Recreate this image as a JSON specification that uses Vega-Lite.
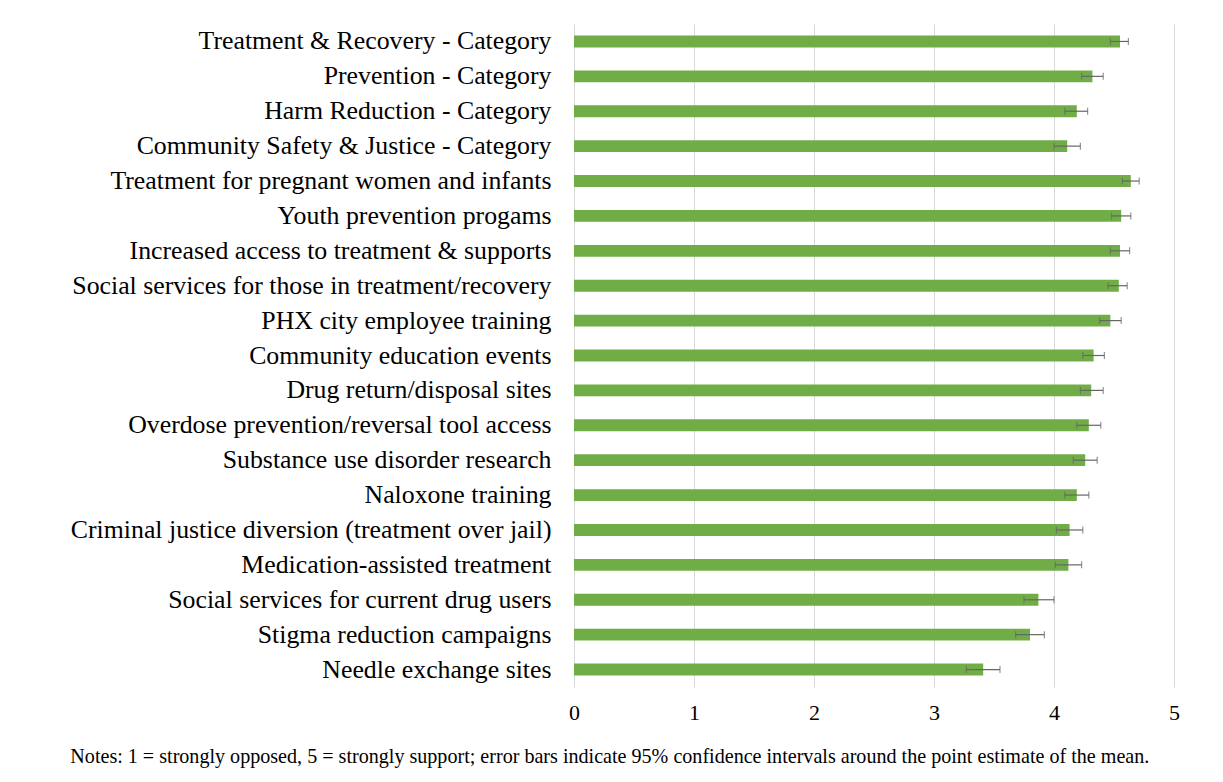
{
  "$schema": "https://vega.github.io/schema/vega-lite/v6.json",
  "autosize": "none",
  "width": 600,
  "height": 663,
  "padding": {"left": 574, "top": 24, "right": 49, "bottom": 95},
  "background": "white",
  "config": {
    "view": {"stroke": null},
    "font": "Liberation Serif"
  },
  "title": {
    "text": "Notes: 1 = strongly opposed, 5 = strongly support; error bars indicate 95% confidence intervals around the point estimate of the mean.",
    "orient": "bottom",
    "anchor": "start",
    "frame": "bounds",
    "font": "Liberation Serif",
    "fontSize": 20.1,
    "fontWeight": "normal",
    "color": "black",
    "offset": 24
  },
  "data": {
    "values": [
      {"item": "Treatment & Recovery - Category", "mean": 4.55, "lo": 4.47, "hi": 4.62},
      {"item": "Prevention - Category", "mean": 4.32, "lo": 4.23, "hi": 4.41},
      {"item": "Harm Reduction - Category", "mean": 4.19, "lo": 4.09, "hi": 4.28},
      {"item": "Community Safety & Justice - Category", "mean": 4.11, "lo": 4.00, "hi": 4.22},
      {"item": "Treatment for pregnant women and infants", "mean": 4.64, "lo": 4.57, "hi": 4.71},
      {"item": "Youth prevention progams", "mean": 4.56, "lo": 4.48, "hi": 4.64},
      {"item": "Increased access to treatment & supports", "mean": 4.55, "lo": 4.47, "hi": 4.63},
      {"item": "Social services for those in treatment/recovery", "mean": 4.54, "lo": 4.45, "hi": 4.61},
      {"item": "PHX city employee training", "mean": 4.47, "lo": 4.38, "hi": 4.56},
      {"item": "Community education events", "mean": 4.33, "lo": 4.24, "hi": 4.42},
      {"item": "Drug return/disposal sites", "mean": 4.31, "lo": 4.22, "hi": 4.41},
      {"item": "Overdose prevention/reversal tool access", "mean": 4.29, "lo": 4.19, "hi": 4.39},
      {"item": "Substance use disorder research", "mean": 4.26, "lo": 4.16, "hi": 4.36},
      {"item": "Naloxone training", "mean": 4.19, "lo": 4.09, "hi": 4.29},
      {"item": "Criminal justice diversion (treatment over jail)", "mean": 4.13, "lo": 4.02, "hi": 4.24},
      {"item": "Medication-assisted treatment", "mean": 4.12, "lo": 4.01, "hi": 4.23},
      {"item": "Social services for current drug users", "mean": 3.87, "lo": 3.75, "hi": 4.00},
      {"item": "Stigma reduction campaigns", "mean": 3.80, "lo": 3.68, "hi": 3.92},
      {"item": "Needle exchange sites", "mean": 3.41, "lo": 3.27, "hi": 3.55}
    ]
  },
  "encoding": {
    "y": {
      "field": "item",
      "type": "nominal",
      "sort": null,
      "scale": {"paddingInner": 0.66, "paddingOuter": 0.33},
      "axis": {
        "title": null,
        "domain": false,
        "ticks": false,
        "grid": false,
        "labelFont": "Liberation Serif",
        "labelFontSize": 25.8,
        "labelColor": "black",
        "labelPadding": 23,
        "labelLimit": 700
      }
    }
  },
  "layer": [
    {
      "mark": {"type": "bar", "color": "#70ad47"},
      "encoding": {
        "x": {
          "field": "mean",
          "type": "quantitative",
          "scale": {"domain": [0, 5], "nice": false},
          "axis": {
            "title": null,
            "values": [0, 1, 2, 3, 4, 5],
            "format": "d",
            "domain": false,
            "ticks": false,
            "grid": true,
            "gridColor": "#d9d9d9",
            "gridWidth": 1,
            "labelFlush": false,
            "labelFont": "Liberation Serif",
            "labelFontSize": 22,
            "labelColor": "black",
            "labelPadding": 15
          }
        }
      }
    },
    {
      "mark": {"type": "errorbar", "ticks": {"size": 7, "color": "#666666", "thickness": 1.2}, "rule": {"color": "#666666", "strokeWidth": 1.2}},
      "encoding": {
        "x": {"field": "lo", "type": "quantitative"},
        "x2": {"field": "hi"}
      }
    }
  ]
}
